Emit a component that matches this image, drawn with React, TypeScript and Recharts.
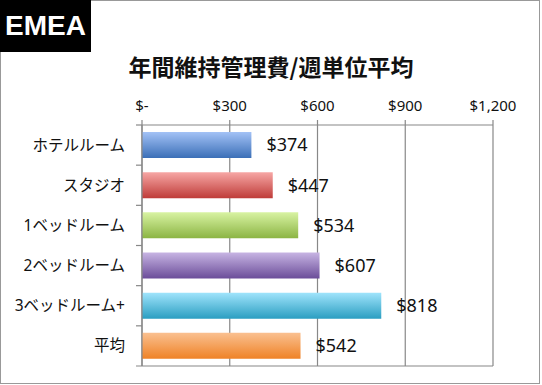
import React from 'react';
import { BarChart, Bar, XAxis, YAxis, CartesianGrid, Cell, LabelList } from 'recharts';

const categories = ['ホテルルーム', 'スタジオ', '1ベッドルーム', '2ベッドルーム', '3ベッドルーム+', '平均'];
const values = [374, 447, 534, 607, 818, 542];
const xTicks = [0, 300, 600, 900, 1200];
const title = '年間維持管理費/週単位平均';
const regionLabel = 'EMEA';

const gradients = [
  ['#a3c2f6', '#3b6fb7'],
  ['#f7a7a5', '#bf3c39'],
  ['#d8f3a2', '#8bb443'],
  ['#c7b4e3', '#6b4d99'],
  ['#a0e4fc', '#2b9ec1'],
  ['#fac090', '#ef8226'],
];

const data = categories.map((c, i) => ({ name: c, value: values[i] }));

const W = 542;
const H = 385;
const M = { top: 95, right: 49, left: 0, bottom: 19 };
const XH = 30;
const YW = 142;
const LINE = '#888';
const FONT = '"Noto Sans", "Noto Sans CJK JP", sans-serif';
const half = (H - M.top - XH - M.bottom) / categories.length / 2;
const plotW = W - M.left - M.right - YW;

const fmtTick = (v: number) => (v === 0 ? '$-' : '$' + v.toLocaleString('en-US'));

const CatTick = (props: any) => {
  const { x, y, payload, index } = props;
  const ax = x + 17;
  const last = index === categories.length - 1;
  return (
    <g>
      <text x={x} y={y} dy="0.36em" textAnchor="end" fontSize={15.5} fill="#111" fontFamily={FONT}>
        {payload.value}
      </text>
      {index === 0 && <line x1={ax - 6} x2={ax} y1={y - half} y2={y - half} stroke={LINE} strokeWidth={1.2} />}
      <line x1={ax - 6} x2={last ? ax + plotW : ax} y1={y + half} y2={y + half} stroke={LINE} strokeWidth={1.2} />
    </g>
  );
};

export default function App() {
  return (
    <div style={{ position: 'absolute', left: 0, top: 0, width: W, height: H, background: '#fff', fontFamily: FONT }}>
      <div style={{ position: 'absolute', left: 0, top: 0, width: 540, height: 384, border: '1.5px solid #999', boxSizing: 'border-box' }} />
      <div style={{ position: 'absolute', left: 0, top: 0, width: 91, height: 52, background: '#000', color: '#fff', fontFamily: '"Liberation Sans", Arial, sans-serif', fontWeight: 'bold', fontSize: 28, lineHeight: '52px', paddingLeft: 5, boxSizing: 'border-box' }}>
        {regionLabel}
      </div>
      <div style={{ position: 'absolute', left: 0, top: 55, width: W, textAlign: 'center', fontSize: 23, lineHeight: '23px', fontWeight: 'bold', color: '#111', fontFamily: '"Noto Sans CJK JP", sans-serif' }}>
        {title}
      </div>
      <BarChart width={W} height={H} data={data} layout="vertical" margin={M} style={{ position: 'absolute', left: 0, top: 0 }}>
        <defs>
          {gradients.map((g, i) => (
            <linearGradient key={i} id={'grad' + i} x1="0" y1="0" x2="0" y2="1">
              <stop offset="0%" stopColor={g[0]} />
              <stop offset="100%" stopColor={g[1]} />
            </linearGradient>
          ))}
        </defs>
        <CartesianGrid stroke={LINE} strokeWidth={1.2} horizontal={false} />
        <XAxis
          type="number"
          orientation="top"
          domain={[0, 1200]}
          ticks={xTicks}
          tickFormatter={fmtTick}
          height={XH}
          tickSize={5}
          tickMargin={9}
          axisLine={{ stroke: LINE, strokeWidth: 1.2 }}
          tickLine={{ stroke: LINE, strokeWidth: 1.2 }}
          tick={{ fontSize: 15, fill: '#111', fontFamily: FONT }}
          interval={0}
        />
        <YAxis
          type="category"
          dataKey="name"
          width={YW}
          tickSize={6}
          tickMargin={11}
          tickLine={false}
          axisLine={{ stroke: LINE, strokeWidth: 1.2 }}
          tick={<CatTick />}
          interval={0}
        />
        <Bar dataKey="value" barSize={26} isAnimationActive={false}>
          {data.map((d, i) => (
            <Cell key={d.name} fill={`url(#grad${i})`} />
          ))}
          <LabelList
            dataKey="value"
            position="right"
            offset={15}
            formatter={(v: any) => '$' + v}
            style={{ fontSize: 18, fill: '#111', fontFamily: FONT }}
          />
        </Bar>
      </BarChart>
    </div>
  );
}
